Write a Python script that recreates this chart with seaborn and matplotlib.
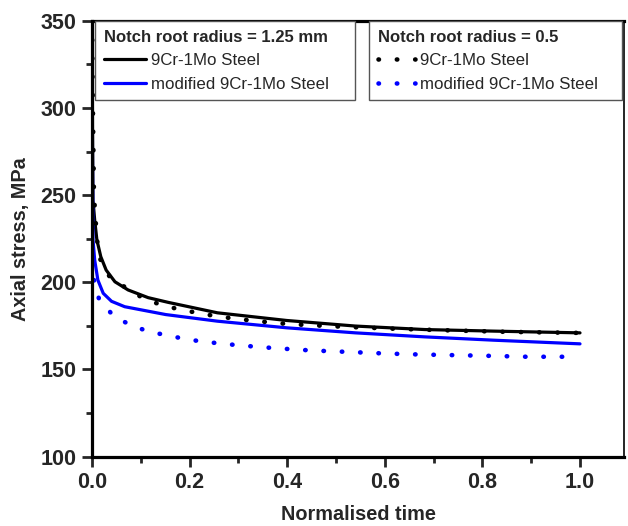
import matplotlib
matplotlib.use("Agg")
import matplotlib.pyplot as plt
import seaborn as sns
import pandas as pd
import numpy as np
from matplotlib.ticker import MultipleLocator

# values
# notch root radius = 1.25 mm (solid lines)
t_p91_125 = [0.0, 0.0005, 0.001, 0.002, 0.0055, 0.010, 0.018, 0.029, 0.047, 0.074, 0.115, 0.156, 0.257,
             0.399, 0.540, 0.682, 0.823, 1.0]
s_p91_125 = [360, 330, 290, 247, 235.7, 224.3, 214.7, 207.0, 200.3, 195.6, 191.2, 188.5, 182.5,
             178.1, 174.9, 172.9, 172.0, 171.0]
t_mod_125 = [0.0, 0.0005, 0.001, 0.002, 0.0055, 0.012, 0.023, 0.040, 0.067, 0.151, 0.257, 0.399, 0.540,
             0.682, 0.823, 1.0]
s_mod_125 = [360, 320, 270, 224.3, 212.8, 201.3, 193.7, 189.1, 186.0, 181.5, 177.7, 173.9, 171.0,
             168.7, 166.8, 164.7]

# notch root radius = 0.5 (dotted lines)
t_p91_05 = [0.0, 0.001, 0.004, 0.01, 0.016, 0.036, 0.074, 0.109, 0.146, 0.183, 0.257, 0.331, 0.405, 0.515,
            0.625, 0.735, 0.846, 0.993]
s_p91_05 = [360, 320, 250, 225, 213.7, 203.2, 196.0, 190.2, 186.7, 184.2, 180.4, 177.9, 176.0, 174.5,
            173.3, 172.4, 171.6, 171.0]
t_mod_05 = [0.004, 0.014, 0.044, 0.081, 0.118, 0.156, 0.192, 0.229, 0.303, 0.376, 0.450, 0.523, 0.597,
            0.670, 0.744, 0.818, 0.891, 0.965]
s_mod_05 = [201.3, 190.8, 180.6, 175.2, 171.6, 169.5, 167.4, 165.9, 163.8, 162.2, 160.9, 160.1, 159.2,
            158.6, 158.2, 157.8, 157.3, 157.3]

sns.set_style("ticks")
plt.rcParams["font.family"] = ["Liberation Sans", "DejaVu Sans"]

fig = plt.figure(figsize=(6.28, 5.26), dpi=100)
ax = fig.add_axes([0.1465, 0.1318, 0.847, 0.8288])

dot = (0, (0.1, 3.9))
sns.lineplot(x=t_p91_125, y=s_p91_125, color="black", linewidth=2.3, ax=ax, label="9Cr-1Mo Steel",
             estimator=None, sort=False)
sns.lineplot(x=t_mod_125, y=s_mod_125, color="#0000ff", linewidth=2.3, ax=ax, label="modified 9Cr-1Mo Steel",
             estimator=None, sort=False)
sns.lineplot(x=t_p91_05, y=s_p91_05, color="black", linewidth=3.3, ax=ax, label="9Cr-1Mo Steel",
             estimator=None, sort=False, linestyle=dot, dash_capstyle="round")
sns.lineplot(x=t_mod_05, y=s_mod_05, color="#0000ff", linewidth=3.3, ax=ax, label="modified 9Cr-1Mo Steel",
             estimator=None, sort=False, linestyle=dot, dash_capstyle="round")

ax.set_xlim(0, 1.09)
ax.set_ylim(100, 350)
ax.xaxis.set_minor_locator(MultipleLocator(0.1))
ax.yaxis.set_major_locator(MultipleLocator(50))
ax.yaxis.set_minor_locator(MultipleLocator(25))
ax.set_xticks(np.arange(0, 1.01, 0.2))
ax.set_xticklabels(["0.0", "0.2", "0.4", "0.6", "0.8", "1.0"])
ax.tick_params(which="major", direction="out", length=7, width=2, labelsize=15.5, pad=4)
ax.tick_params(which="minor", direction="out", length=4, width=2)
for lab in ax.get_xticklabels() + ax.get_yticklabels():
    lab.set_fontweight("bold")

for side in ["left", "bottom", "top"]:
    ax.spines[side].set_linewidth(2.3)
ax.spines["right"].set_linewidth(1.2)
for s in ax.spines.values():
    s.set_color("black")
    s.set_visible(True)

ax.set_xlabel("Normalised time", fontsize=14.3, fontweight="bold", labelpad=9)
ax.set_ylabel("Axial stress, MPa", fontsize=14.3, fontweight="bold", labelpad=8)

handles, labels = ax.get_legend_handles_labels()
leg_kw = dict(loc="upper left", fontsize=12.2, frameon=True, fancybox=False, framealpha=1,
              edgecolor="#555555", borderaxespad=0, borderpad=0.5, labelspacing=0.5,
              handletextpad=0.3, alignment="left",
              title_fontproperties={"weight": "bold", "size": 12})
# trailing spaces widen the boxes to the reference size
leg1 = ax.legend(handles[:2], labels[:2], title="Notch root radius = 1.25 mm    ",
                 bbox_to_anchor=(0.006, 0.999), handlelength=2.5, **leg_kw)
leg1.get_frame().set_linewidth(1.0)
ax.add_artist(leg1)
leg2 = ax.legend(handles[2:], labels[2:], title="Notch root radius = 0.5" + " " * 12,
                 bbox_to_anchor=(0.521, 0.999), handlelength=2.2, **leg_kw)
leg2.get_frame().set_linewidth(1.0)

fig.savefig("out.png", dpi=100)
